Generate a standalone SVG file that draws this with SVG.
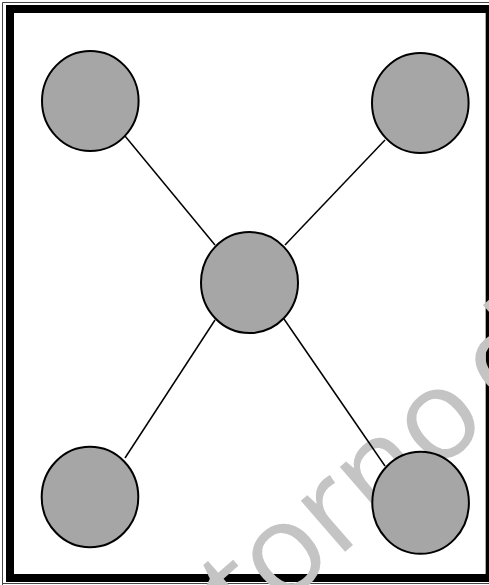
<svg xmlns="http://www.w3.org/2000/svg" width="489" height="585" viewBox="0 0 489 585">
<style>
.node{fill:#a6a6a6;stroke:#000;stroke-width:2}
.edge{stroke:#000;stroke-width:1.5;fill:none}
.wm{fill:#c4c4c4;font-family:"Open Sans",sans-serif;font-size:126px}
</style>
<rect x="0" y="0" width="489" height="585" fill="#fff"/>
<g id="frame">
<path d="M2.5 589 V2.5 H489" fill="none" stroke="#444" stroke-width="1"/>
<path d="M2.5 583.5 H489" fill="none" stroke="#444" stroke-width="1"/>
<rect x="10" y="9" width="480" height="569" fill="none" stroke="#000" stroke-width="8"/>
<line x1="485.5" y1="13" x2="485.5" y2="574" stroke="#aaa" stroke-width="1"/>
</g>
<text class="wm" transform="translate(246,638) rotate(-41)">torno<tspan dx="16">d</tspan></text>
<g id="connectors">
<line class="edge" x1="125" y1="136" x2="215" y2="245"/>
<line class="edge" x1="385" y1="140" x2="285" y2="245"/>
<line class="edge" x1="215" y1="320" x2="125" y2="458"/>
<line class="edge" x1="284" y1="319" x2="385" y2="466"/>
</g>
<g id="n-top-left"><ellipse class="node" cx="90.3" cy="101" rx="48.3" ry="50"/></g>
<g id="n-top-right"><ellipse class="node" cx="420.3" cy="103" rx="48.3" ry="50"/></g>
<g id="n-center"><ellipse class="node" cx="249.5" cy="282.6" rx="48.5" ry="50.5"/></g>
<g id="n-bottom-left"><ellipse class="node" cx="90" cy="497" rx="48.3" ry="50.3"/></g>
<g id="n-bottom-right"><ellipse class="node" cx="420.6" cy="502.8" rx="48.3" ry="51"/></g>
</svg>
